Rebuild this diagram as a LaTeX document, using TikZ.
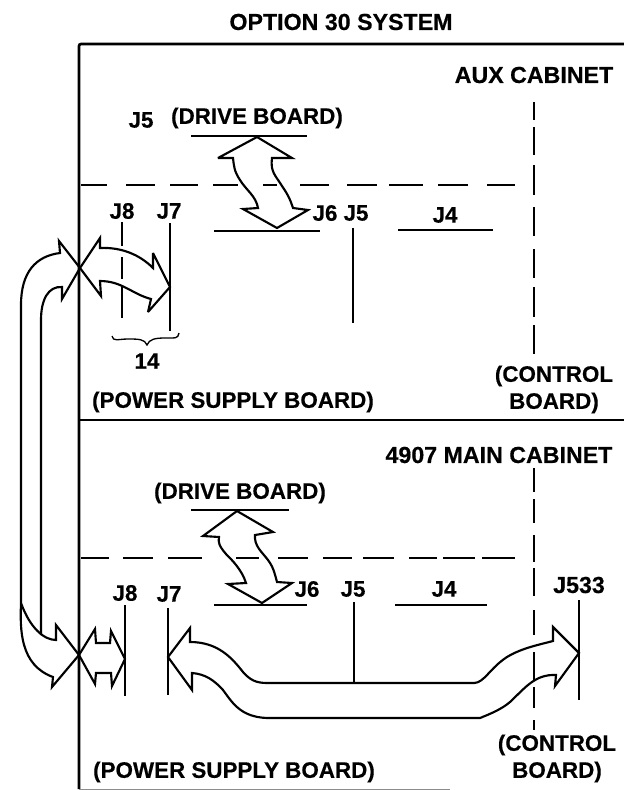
\documentclass[tikz,border=0pt]{standalone}
\usepackage{fontspec}
\setmainfont{Liberation Sans}[BoldFeatures={FakeBold=0.4}]
\begin{document}
\begin{tikzpicture}[x=0.75pt,y=-0.75pt,line join=miter,
  lab/.style={inner sep=0pt,font=\fontsize{16.8}{18}\selectfont\bfseries,text=black},
  wide/.style={inner sep=0pt,font=\fontsize{17.4}{18}\selectfont\bfseries,text=black},
  frameline/.style={line width=2pt,black},
  boardline/.style={line width=1.25pt,black},
  dashline/.style={line width=1.4pt,black},
  blockarrow/.style={line width=1.6pt,black,fill=none,miter limit=4}]
\useasboundingbox (0,0) rectangle (624,790);
\fill[white] (0,0) rectangle (624,790);
% frame
\draw[frameline,rounded corners=1.5pt] (624,44) -- (79,44) -- (79,789);
\draw[frameline] (79,420) -- (624,420);
\draw[line width=0.5pt,black!45] (79,789) -- (450,789);
% dashed horizontals
\foreach \a/\b in {81/107,126/155,170/198,213/238,263/277,300/329,347/377,389/423,438/468,487/515}
  \draw[dashline] (\a,185) -- (\b,185);
\foreach \a/\b in {81/109,123/153,168/202,236/259,278/308,323/352,363/394,409/437,443/475,482/515}
  \draw[dashline] (\a,558) -- (\b,558);
% dashed verticals
\foreach \a/\b in {102/120,127/155,165/195,207/236,249/278,287/317,325/354}
  \draw[dashline] (534,\a) -- (534,\b);
\foreach \a/\b in {468/492,499/523,535/562,568/596,610/635,652/680,687/708,720/730}
  \draw[dashline] (534,\a) -- (534,\b);
% board lines
\draw[boardline] (191,136) -- (307,136);
\draw[boardline] (214,231) -- (320,231);
\draw[boardline] (398,230) -- (493,230);
\draw[boardline] (353,228) -- (353,323);
\draw[boardline] (170,223) -- (170,331);
\foreach \a/\b in {222/246,257/279,285/318}
  \draw[boardline] (122,\a) -- (122,\b);
\draw[boardline] (191,510) -- (289,510);
\draw[boardline] (214,605) -- (307,605);
\draw[boardline] (395,605) -- (487,605);
\draw[boardline] (354,602) -- (354,683);
\draw[boardline] (125,605) -- (125,696);
\draw[boardline] (168,608) -- (168,695);
\draw[boardline] (579,600) -- (579,700);
% brace
\draw[line width=1pt] (112,336) .. controls (113,342) and (118,339) .. (128,339)
  .. controls (138,339) and (145,339) .. (147,345)
  .. controls (149,339) and (156,338) .. (165,338)
  .. controls (175,338) and (178,339) .. (179,333);
% aux drive arrow
\draw[blockarrow] (257,137) -- (292,158) -- (272,158)
  .. controls (270,172) and (276,176) .. (282,186) .. controls (289,196) and (291,202) .. (293,208)
  -- (308,210) -- (277,228) -- (243,209) -- (258,208)
  .. controls (256,196) and (246,190) .. (240,180) .. controls (234,171) and (234,166) .. (233,158)
  -- (218,158) -- cycle;
% main drive arrow
\draw[blockarrow] (237,511) -- (273,532) -- (255,535)
  .. controls (254,546) and (262,552) .. (268,560) .. controls (274,568) and (275,575) .. (277,582)
  -- (292,583) -- (262,603) -- (228,584) -- (246,583)
  .. controls (242,570) and (232,560) .. (226,554) .. controls (219,546) and (218,542) .. (219,537)
  -- (203,536) -- cycle;
% aux J8/J7 arrow
\draw[blockarrow] (80,268) -- (100,238) -- (100,248)
  .. controls (122,247) and (140,255) .. (153,268)
  -- (153,253) -- (170,287) -- (148,312) -- (151,299)
  .. controls (132,294) and (122,281) .. (100,281)
  -- (101,296) -- cycle;
% main J8 arrow
\draw[blockarrow] (79,655) -- (95,629) -- (96,643) -- (110,643) -- (111,631) -- (125,659)
  -- (112,686) -- (111,673) -- (96,673) -- (95,684) -- cycle;
% big main arrow
\draw[blockarrow] (168,657) -- (190,628) -- (190,642)
  .. controls (218,642) and (232,658) .. (243,672) .. controls (250,680) and (256,683) .. (267,683)
  -- (474,683) .. controls (484,683) and (490,668) .. (507,657) .. controls (522,648) and (538,645) .. (553,641)
  -- (553,627) -- (579,653) -- (555,686) -- (556,675)
  .. controls (535,674) and (525,688) .. (510,702) .. controls (502,709) and (490,714) .. (480,718)
  -- (267,718) .. controls (240,717) and (232,702) .. (223,690) .. controls (214,680) and (205,674) .. (192,673)
  -- (192,690) -- cycle;
% loop arrow
\draw[blockarrow] (80,268) -- (59,241) -- (60,253)
  .. controls (36,256) and (21,272) .. (21,305)
  -- (21,603) .. controls (20,630) and (20,665) .. (53,677)
  -- (52,687) -- (79,655) -- (56,625) -- (56,640)
  .. controls (44,640) and (30,628) .. (21,603);
\draw[blockarrow] (80,268) -- (62,299) -- (62,287) .. controls (48,286) and (41,300) .. (41,320) -- (41,635);
% labels
\node[wide] (title) at (341,22) {OPTION 30 SYSTEM};
\node[wide] (aux) at (534,75) {AUX CABINET};
\node[lab] (j5a) at (141,120) {J5};
\node[lab] (drivea) at (257,118) {(DRIVE BOARD)};
\node[lab] (j8a) at (122,211) {J8};
\node[lab] (j7a) at (169,211) {J7};
\node[lab] (j6a) at (325,213) {J6};
\node[lab] (j5b) at (356,213) {J5};
\node[lab] (j4a) at (445,215) {J4};
\node[lab] (n14) at (147,361) {14};
\node[lab] (ctrla) at (554,376) {(CONTROL};
\node[lab] (boarda) at (554,403) {BOARD)};
\node[lab] (psa) at (233,402) {(POWER SUPPLY BOARD)};
\node[wide] (main) at (499,455) {4907 MAIN CABINET};
\node[lab] (driveb) at (240,493) {(DRIVE BOARD)};
\node[lab] (j8b) at (125,593) {J8};
\node[lab] (j7b) at (169,594) {J7};
\node[lab] (j6b) at (307,589) {J6};
\node[lab] (j5c) at (353,589) {J5};
\node[lab] (j4b) at (444,589) {J4};
\node[wide] (j533) at (579,585) {J533};
\node[lab] (ctrlb) at (557,745) {(CONTROL};
\node[lab] (boardb) at (557,772) {BOARD)};
\node[lab] (psb) at (234,772) {(POWER SUPPLY BOARD)};
\end{tikzpicture}
\end{document}
